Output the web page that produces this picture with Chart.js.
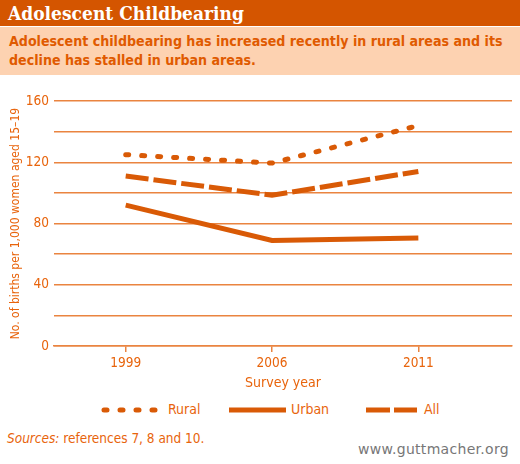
<!DOCTYPE html>
<html>
<head>
<meta charset="utf-8">
<script src="https://cdn.jsdelivr.net/npm/chart.js@4"></script>
<style>
  body { margin: 0; width: 520px; height: 464px; background: #fff; position: relative; overflow: hidden; }
  .narrow { font-family: "DejaVu Sans Condensed", "Liberation Sans Narrow", sans-serif; }
  #titulo { position: absolute; left: 0; top: 0; width: 520px; height: 26px; background: #D45500;
    color: #fff; font-family: "DejaVu Serif Condensed", "DejaVu Serif", serif; font-weight: bold; font-size: 19px; line-height: 27px; padding-left: 8px; box-sizing: border-box; }
  #sub { position: absolute; left: 0; top: 27px; width: 520px; height: 48px; background: #FDD2B1;
    color: #E05A00; font-family: "DejaVu Sans Condensed", sans-serif; font-weight: bold; font-size: 14.1px; line-height: 19px; padding: 5px 0 0 9px; box-sizing: border-box; white-space: nowrap; }
  #cont { position: absolute; left: 0; top: 88px; width: 520px; height: 308px; }
  #leyenda { position: absolute; top: 400px; left: 0; width: 520px; height: 20px; }
  #leyenda span { position: absolute; top: 1px; color: #E8640C; font-size: 14px; }
  #leyenda svg { position: absolute; top: 5px; }
  #fuentes { position: absolute; left: 7px; top: 430px; color: #E8640C; font-size: 13.5px; }
  #web { position: absolute; left: 358px; top: 441px; color: #777; font-family: "DejaVu Sans", sans-serif; font-size: 14px; letter-spacing: 0.3px; }
</style>
</head>
<body>
<div id="titulo">Adolescent Childbearing</div>
<div id="sub">Adolescent childbearing has increased recently in rural areas and its<br>decline has stalled in urban areas.</div>
<div id="cont"><canvas id="grafico"></canvas></div>
<div id="leyenda" class="narrow">
  <svg style="left:100px" width="62" height="10"><line x1="4" y1="5" x2="60" y2="5" stroke="#D95A06" stroke-width="5" stroke-linecap="round" stroke-dasharray="3 13"/></svg>
  <span style="left:168px">Rural</span>
  <svg style="left:229px" width="58" height="10"><line x1="0" y1="5" x2="57" y2="5" stroke="#D95A06" stroke-width="5"/></svg>
  <span style="left:291px">Urban</span>
  <svg style="left:366px" width="52" height="10"><line x1="0" y1="5" x2="51" y2="5" stroke="#D95A06" stroke-width="5" stroke-dasharray="24 4"/></svg>
  <span style="left:424px">All</span>
</div>
<div id="fuentes" class="narrow"><i>Sources:</i> references 7, 8 and 10.</div>
<div id="web">www.guttmacher.org</div>
<script>
const anios = ['1999', '2006', '2011']
const rural = [125, 119.5, 144]
const urbano = [92, 69, 70.5]
const todos = [111, 98.5, 114]
const ticksY = [0, 40, 80, 120, 160]

const naranja = '#D95A06'
const grilla = '#EA8440'
const texto = '#E8640C'
const fuente = '"DejaVu Sans Condensed", "Liberation Sans Narrow", sans-serif'

const puntos = serie => serie.map((v, i) => ({ x: i, y: v }))

const ctx = document.querySelector('#grafico').getContext('2d')
new Chart(ctx, {
    type: 'line',
    data: {
        datasets: [
            { label: 'Rural', data: puntos(rural), borderColor: naranja, borderWidth: 5, borderDash: [3, 13], borderCapStyle: 'round', pointRadius: 0, tension: 0 },
            { label: 'Urban', data: puntos(urbano), borderColor: naranja, borderWidth: 5, pointRadius: 0, tension: 0 },
            { label: 'All', data: puntos(todos), borderColor: naranja, borderWidth: 5, borderDash: [23, 5], pointRadius: 0, tension: 0 }
        ]
    },
    options: {
        responsive: true,
        maintainAspectRatio: false,
        animation: false,
        layout: { padding: { top: 13, right: 8, left: 0, bottom: 0 } },
        plugins: { legend: { display: false }, tooltip: { enabled: false } },
        scales: {
            x: {
                type: 'linear',
                min: -0.49,
                max: 2.64,
                afterBuildTicks: s => { s.ticks = anios.map((a, i) => ({ value: i })) },
                afterFit: s => { s.height = 50 },
                grid: { drawOnChartArea: false, drawTicks: true, tickLength: 6, color: grilla, lineWidth: 1.5 },
                border: { color: grilla, width: 1.5 },
                ticks: { color: texto, font: { family: fuente, size: 13.5 }, padding: 3, callback: v => anios[v], maxRotation: 0 },
                title: { display: true, text: 'Survey year', color: texto, font: { family: fuente, size: 14 }, padding: { top: 8 } }
            },
            y: {
                min: 0,
                max: 160,
                afterBuildTicks: s => { s.ticks = [0, 20, 40, 60, 80, 100, 120, 140, 160].map(v => ({ value: v })) },
                afterFit: s => { s.width = 54 },
                grid: { drawTicks: false, color: grilla, lineWidth: 1.5 },
                border: { display: false },
                ticks: { color: texto, font: { family: fuente, size: 13.5 }, padding: 5, callback: v => ticksY.includes(v) ? v : '' },
                title: { display: true, text: 'No. of births per 1,000 women aged 15–19', color: texto, font: { family: fuente, size: 12 }, padding: { top: 9, bottom: 0 } }
            }
        }
    }
})
</script>
</body>
</html>
